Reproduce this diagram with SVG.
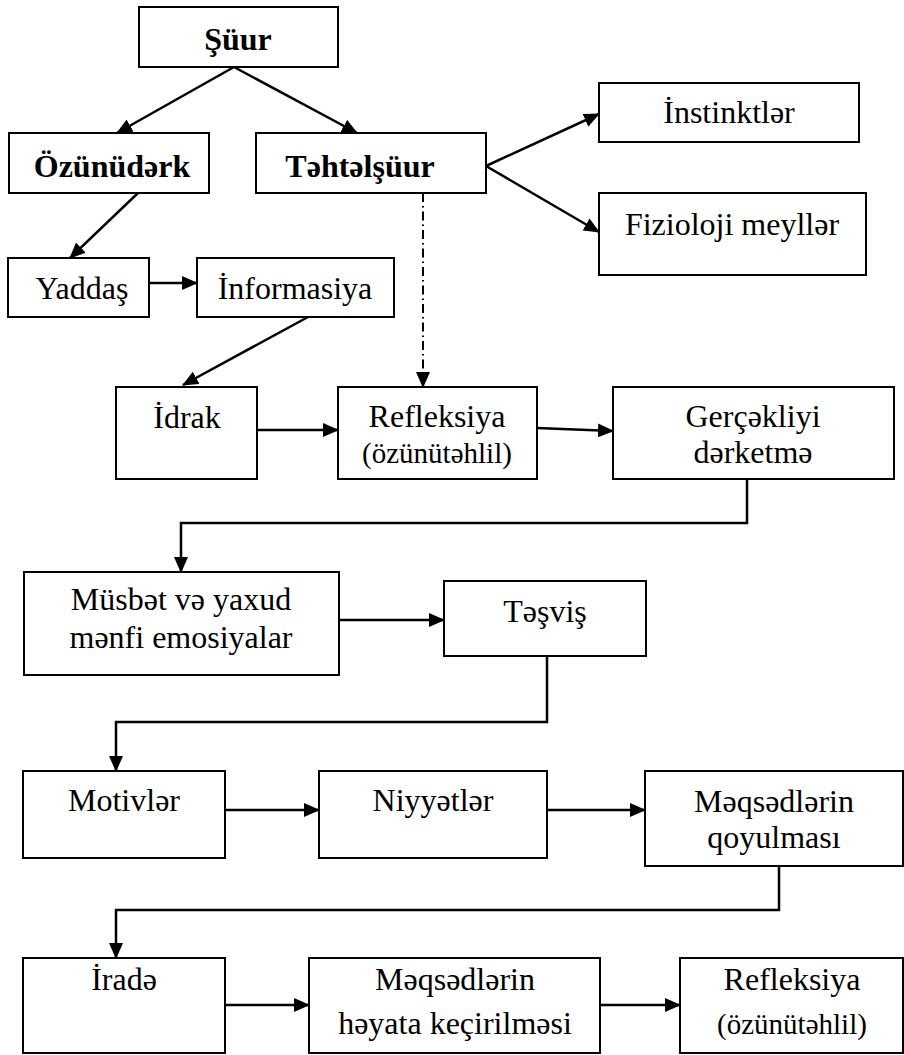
<svg xmlns="http://www.w3.org/2000/svg" width="904" height="1055" viewBox="0 0 904 1055" font-family="Liberation Serif">
<defs>
<style>
.box{fill:#fff;stroke:#000;stroke-width:2}
.t{font-family:'Liberation Serif','Times New Roman',serif;font-size:32px;fill:#000;text-anchor:middle}
.b{font-weight:bold}
.s{font-size:29px}
.c{fill:none;stroke:#000;stroke-width:2.5}
.d{stroke-dasharray:9 4 1.5 4;stroke-width:2}
</style>
<marker id="ah" markerUnits="userSpaceOnUse" markerWidth="16" markerHeight="14" viewBox="0 0 16 14" refX="15" refY="7" orient="auto">
<path d="M0,0 L16,7 L0,14 Z" fill="#000"/>
</marker>
</defs>
<rect width="904" height="1055" fill="#fff"/>
<g id="connectors">
<line class="c" x1="234" y1="67" x2="117" y2="133" marker-end="url(#ah)"/>
<line class="c" x1="234" y1="67" x2="357" y2="133" marker-end="url(#ah)"/>
<line class="c" x1="486" y1="166" x2="599" y2="114" marker-end="url(#ah)"/>
<line class="c" x1="486" y1="166" x2="599" y2="232" marker-end="url(#ah)"/>
<line class="c" x1="138" y1="193" x2="70" y2="258" marker-end="url(#ah)"/>
<line class="c" x1="149" y1="283" x2="197" y2="283" marker-end="url(#ah)"/>
<line class="c" x1="308" y1="317" x2="183" y2="385" marker-end="url(#ah)"/>
<line class="c d" x1="423" y1="193" x2="423" y2="387" marker-end="url(#ah)"/>
<line class="c" x1="257" y1="430" x2="338" y2="430" marker-end="url(#ah)"/>
<line class="c" x1="537" y1="428" x2="613" y2="431" marker-end="url(#ah)"/>
<polyline class="c" points="747,479 747,523 181,523 181,572" marker-end="url(#ah)"/>
<line class="c" x1="339" y1="620" x2="444" y2="620" marker-end="url(#ah)"/>
<polyline class="c" points="547,656 547,722 116,722 116,771" marker-end="url(#ah)"/>
<line class="c" x1="225" y1="810" x2="319" y2="810" marker-end="url(#ah)"/>
<line class="c" x1="547" y1="810" x2="645" y2="810" marker-end="url(#ah)"/>
<polyline class="c" points="779,866 779,910 116,910 116,958" marker-end="url(#ah)"/>
<line class="c" x1="225" y1="1005" x2="309" y2="1005" marker-end="url(#ah)"/>
<line class="c" x1="600" y1="1005" x2="680" y2="1005" marker-end="url(#ah)"/>
</g>
<g id="suur"><rect class="box" x="139" y="7" width="199" height="60"/><text class="t b" x="238" y="50">Şüur</text></g>
<g id="ozunuderk"><rect class="box" x="9" y="133" width="200" height="60"/><text class="t b" x="112" y="177">Özünüdərk</text></g>
<g id="tehtelsuur"><rect class="box" x="256" y="133" width="230" height="60"/><text class="t b" x="360" y="177">Təhtəlşüur</text></g>
<g id="instinktler"><rect class="box" x="599" y="83" width="260" height="59"/><text class="t" x="729" y="123">İnstinktlər</text></g>
<g id="fizioloji"><rect class="box" x="599" y="193" width="267" height="82"/><text class="t" x="732" y="235">Fizioloji meyllər</text></g>
<g id="yaddas"><rect class="box" x="8" y="258" width="141" height="59"/><text class="t" x="82" y="299">Yaddaş</text></g>
<g id="informasiya"><rect class="box" x="197" y="258" width="197" height="59"/><text class="t" x="295" y="299">İnformasiya</text></g>
<g id="idrak"><rect class="box" x="116" y="387" width="141" height="92"/><text class="t" x="187" y="428">İdrak</text></g>
<g id="refleksiya1"><rect class="box" x="338" y="387" width="199" height="92"/><text class="t" x="437" y="427">Refleksiya</text><text class="t s" x="437" y="463">(özünütəhlil)</text></g>
<g id="gercekliyi"><rect class="box" x="613" y="387" width="281" height="92"/><text class="t" x="753" y="427">Gerçəkliyi</text><text class="t" x="753" y="463">dərketmə</text></g>
<g id="musbet"><rect class="box" x="24" y="572" width="315" height="103"/><text class="t" x="181" y="610">Müsbət və yaxud</text><text class="t" x="181" y="648">mənfi emosiyalar</text></g>
<g id="tesvis"><rect class="box" x="444" y="581" width="202" height="75"/><text class="t" x="545" y="622">Təşviş</text></g>
<g id="motivler"><rect class="box" x="23" y="771" width="202" height="87"/><text class="t" x="124" y="811">Motivlər</text></g>
<g id="niyyetler"><rect class="box" x="319" y="771" width="228" height="87"/><text class="t" x="433" y="811">Niyyətlər</text></g>
<g id="meqsedlerin1"><rect class="box" x="645" y="771" width="258" height="95"/><text class="t" x="774" y="812">Məqsədlərin</text><text class="t" x="774" y="848">qoyulması</text></g>
<g id="irade"><rect class="box" x="23" y="958" width="202" height="95"/><text class="t" x="124" y="990">İradə</text></g>
<g id="meqsedlerin2"><rect class="box" x="309" y="958" width="291" height="95"/><text class="t" x="455" y="990">Məqsədlərin</text><text class="t" x="455" y="1034">həyata keçirilməsi</text></g>
<g id="refleksiya2"><rect class="box" x="680" y="958" width="223" height="95"/><text class="t" x="792" y="990">Refleksiya</text><text class="t s" x="792" y="1034">(özünütəhlil)</text></g>
</svg>
